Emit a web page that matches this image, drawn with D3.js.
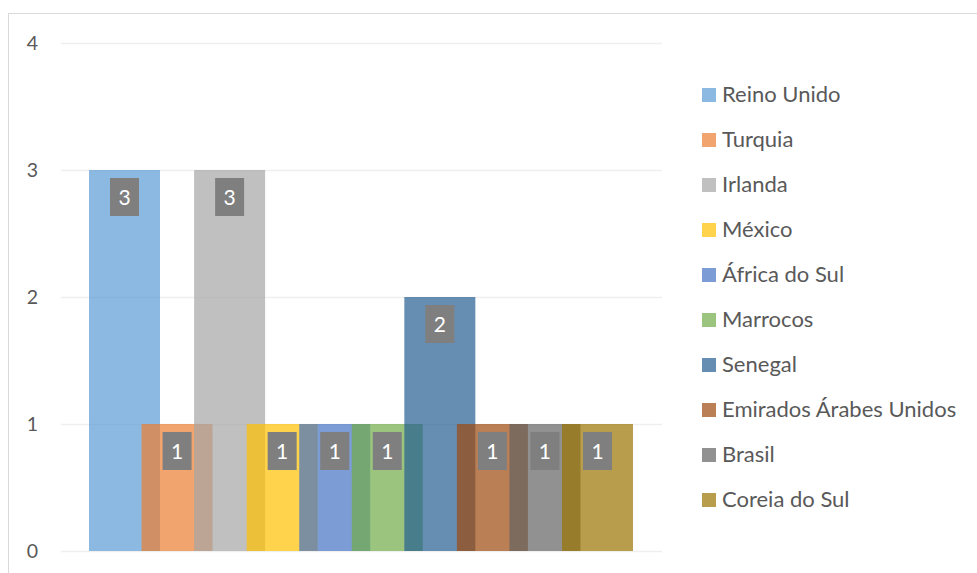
<!DOCTYPE html>
<html><head><meta charset="utf-8">
<script src="https://cdn.jsdelivr.net/npm/d3@7"></script>
<style>html,body{margin:0;padding:0;background:#fff}svg{display:block}</style>
</head><body>
<svg id="c" width="977" height="573"></svg>
<script>
const series = ["Reino Unido","Turquia","Irlanda","México","África do Sul","Marrocos","Senegal","Emirados Árabes Unidos","Brasil","Coreia do Sul"];
const values = [3,1,3,1,1,1,2,1,1,1];
const colors = ["#5B9BD5","#ED7D31","#A5A5A5","#FFC000","#4472C4","#70AD47","#255E91","#9E480E","#636363","#997300"];
const yTicks = [0,1,2,3,4];

const svg = d3.select("#c");
const font = "Lato, 'Open Sans', sans-serif";
const plot = {left:61, right:662, top:43, bottom:551};
const barW = 71;

svg.append("rect").attr("x",8.5).attr("y",13.5).attr("width",1000).attr("height",600)
  .attr("fill","#fff").attr("stroke","#D9D9D9").attr("stroke-width",1);

const y = d3.scaleLinear().domain([0,4]).range([plot.bottom, plot.top]);
const x = d3.scalePoint().domain(series).range([89, 633 - barW]);

// gridlines
svg.append("g").selectAll("line").data(yTicks).join("line")
  .attr("x1",plot.left).attr("x2",plot.right)
  .attr("y1",d=>y(d)+0.5).attr("y2",d=>y(d)+0.5)
  .attr("stroke","#EFEFEF").attr("stroke-width",1.5);

// y axis labels
const yAxis = d3.axisLeft(y).tickValues(yTicks).tickSize(0).tickPadding(0).tickFormat(d3.format("d"));
const ga = svg.append("g").attr("transform",`translate(38,0)`).call(yAxis);
ga.select(".domain").remove();
ga.selectAll("text").attr("font-family",font).attr("font-size",19.5).attr("fill","#595959").attr("dy","0.35em");

// bars
const data = series.map((s,i)=>({s, v:values[i], c:colors[i]}));
svg.append("g").selectAll("rect").data(data).join("rect")
  .attr("x",d=>x(d.s)).attr("width",barW)
  .attr("y",d=>y(d.v)).attr("height",d=>y(0)-y(d.v))
  .attr("fill",d=>d.c).attr("fill-opacity",0.7);

// labels
const lg = svg.append("g").selectAll("g").data(data).join("g")
  .attr("transform",d=>`translate(${x(d.s)+barW/2},${y(d.v)+8})`);
lg.append("rect").attr("x",-14.5).attr("y",0).attr("width",29).attr("height",38).attr("fill","#7F7F7F");
lg.append("text").attr("x",0).attr("y",19).attr("dy","0.36em").attr("text-anchor","middle")
  .attr("font-family",font).attr("font-size",21).attr("fill","#fff").text(d=>d.v);

// legend
const leg = svg.append("g").selectAll("g").data(data).join("g")
  .attr("transform",(d,i)=>`translate(702,${95+i*45})`);
leg.append("rect").attr("x",0).attr("y",-7).attr("width",14).attr("height",14).attr("fill",d=>d.c).attr("fill-opacity",0.7);
leg.append("text").attr("x",20).attr("y",0).attr("dy","0.33em")
  .attr("font-family",font).attr("font-size",22).attr("fill","#595959").text(d=>d.s);
</script>
</body></html>
